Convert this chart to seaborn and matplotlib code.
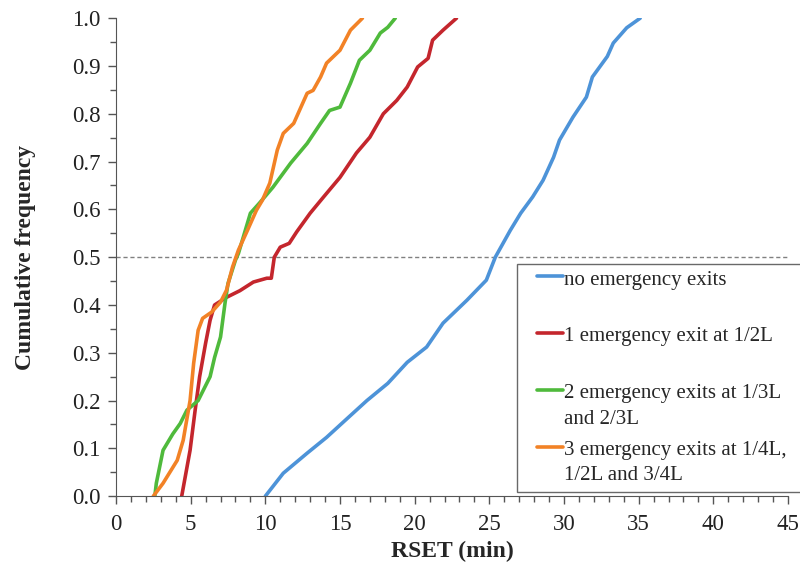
import numpy as np
import pandas as pd
import matplotlib
matplotlib.use("Agg")
import matplotlib.pyplot as plt
from matplotlib.legend_handler import HandlerLine2D
import seaborn as sns

# ---- data ----
series_names = [
    "no emergency exits",
    "1 emergency exit at 1/2L",
    "2 emergency exits at 1/3L\nand 2/3L",
    "3 emergency exits at 1/4L,\n1/2L and 3/4L",
]
colors = ["#4d93d8", "#c4262d", "#4fba3c", "#f28226"]

x_none = [10.0, 11.2, 12.8, 14.1, 15.5, 16.8, 18.2, 19.5, 20.8, 21.9, 23.5, 24.8, 25.4,
          26.4, 27.1, 27.9, 28.6, 29.3, 29.7, 30.6, 31.5, 31.9, 32.9, 33.3, 34.2, 35.1]
y_none = [0.0, 0.048, 0.09, 0.123, 0.163, 0.2, 0.236, 0.28, 0.312, 0.362, 0.41, 0.452, 0.50,
          0.556, 0.592, 0.626, 0.661, 0.709, 0.745, 0.793, 0.835, 0.877, 0.92, 0.948, 0.98, 1.0]

x_one = [4.4, 4.96, 5.3, 5.6, 6.0, 6.3, 6.6, 7.4, 8.3, 9.2, 10.1, 10.4, 10.6, 11.0, 11.6, 12.1,
         13.0, 13.9, 15.0, 16.1, 17.0, 17.9, 18.8, 19.5, 20.2, 20.9, 21.2, 21.9, 22.8]
y_one = [0.0, 0.096, 0.18, 0.25, 0.32, 0.368, 0.40, 0.416, 0.43, 0.448, 0.456, 0.456, 0.50, 0.521,
         0.529, 0.553, 0.592, 0.626, 0.667, 0.718, 0.751, 0.80, 0.828, 0.856, 0.898, 0.916, 0.954,
         0.975, 1.0]

x_two = [2.6, 2.7, 3.15, 3.8, 4.3, 4.75, 5.5, 6.3, 6.6, 7.0, 7.3, 7.5, 8.0, 8.2, 9.0, 9.6, 10.5,
         11.7, 12.8, 13.7, 14.3, 15.0, 15.7, 16.3, 17.0, 17.7, 18.2, 18.7]
y_two = [0.0, 0.027, 0.096, 0.13, 0.152, 0.18, 0.20, 0.25, 0.29, 0.333, 0.404, 0.445, 0.494, 0.508,
         0.592, 0.613, 0.646, 0.697, 0.738, 0.78, 0.807, 0.814, 0.864, 0.912, 0.933, 0.969, 0.981, 1.0]

x_three = [2.5, 3.15, 4.1, 4.5, 4.96, 5.2, 5.5, 5.8, 6.4, 7.0, 7.4, 7.8, 8.2, 8.8, 9.4, 9.8, 10.3,
           10.8, 11.2, 11.9, 12.5, 12.8, 13.2, 13.7, 14.1, 15.0, 15.7, 16.5]
y_three = [0.0, 0.027, 0.075, 0.117, 0.2, 0.278, 0.347, 0.372, 0.385, 0.406, 0.431, 0.479, 0.515,
           0.556, 0.598, 0.619, 0.655, 0.724, 0.759, 0.78, 0.822, 0.843, 0.849, 0.877, 0.906, 0.933,
           0.975, 1.0]

x_ticks = [0, 5, 10, 15, 20, 25, 30, 35, 40, 45]
y_ticks = [0.0, 0.1, 0.2, 0.3, 0.4, 0.5, 0.6, 0.7, 0.8, 0.9, 1.0]

frames = []
for name, xs, ys in zip(series_names, [x_none, x_one, x_two, x_three],
                        [y_none, y_one, y_two, y_three]):
    frames.append(pd.DataFrame({"RSET": xs, "freq": ys, "series": name}))
df = pd.concat(frames, ignore_index=True)

# ---- style ----
sns.set_style("ticks")
plt.rcParams["font.family"] = ["Liberation Serif", "DejaVu Serif"]
plt.rcParams["axes.edgecolor"] = "#555555"
plt.rcParams["xtick.color"] = "#555555"
plt.rcParams["ytick.color"] = "#555555"
plt.rcParams["xtick.labelcolor"] = "#222222"
plt.rcParams["ytick.labelcolor"] = "#222222"

fig = plt.figure(figsize=(8.0, 5.69), dpi=100)
ax = fig.add_axes([0.145, 0.128, 0.840, 0.840])

sns.lineplot(data=df, x="RSET", y="freq", hue="series", hue_order=series_names,
             palette=colors, estimator=None, sort=False, linewidth=2.6, ax=ax)

ax.axhline(0.5, color="#808080", linestyle=(0, (3, 2)), linewidth=1.0, zorder=0)

ax.set_xlim(0, 45)
ax.set_ylim(0, 1.0)
ax.set_xticks(x_ticks)
ax.set_yticks(y_ticks)
ax.set_yticklabels([f"{v:.1f}" for v in y_ticks])
ax.set_xticks(np.arange(0, 46, 1), minor=True)
ax.set_yticks(np.arange(0, 1.001, 0.05), minor=True)
ax.tick_params(axis="both", which="major", length=6, width=1.0, labelsize=16.5, direction="out")
ax.tick_params(axis="both", which="minor", length=4, width=1.0, direction="out")
ax.tick_params(axis="x", pad=7)
ax.tick_params(axis="y", pad=5)

sns.despine(ax=ax, top=True, right=True)

ax.set_xlabel("RSET (min)", fontsize=17, fontweight="bold", labelpad=4)
ax.set_ylabel("Cumulative frequency", fontsize=17, fontweight="bold", labelpad=26)


class FirstLineHandler(HandlerLine2D):
    """Legend line level with the first text line, drawn at the right of the handle box."""
    def __init__(self, dy, seg, **kw):
        super().__init__(**kw)
        self.dy = dy
        self.seg = seg

    def create_artists(self, legend, orig_handle, xdescent, ydescent, width, height,
                       fontsize, trans):
        arts = super().create_artists(legend, orig_handle, xdescent, ydescent, width,
                                      height, fontsize, trans)
        for a in arts:
            xd = np.asarray(a.get_xdata(), dtype=float)
            yd = np.asarray(a.get_ydata(), dtype=float)
            if len(xd) >= 2:
                a.set_xdata(np.linspace(width - xdescent - self.seg, width - xdescent, len(xd)))
            a.set_ydata(yd + self.dy)
        return arts


handles, labels = ax.get_legend_handles_labels()
# every entry occupies a two-line slot, like the reference
labels2 = [lab if "\n" in lab else lab + "\n " for lab in labels]
leg_fs = 15
leg = ax.legend(handles, labels2, loc="upper left",
                bbox_to_anchor=(0.597, 0.485, 0.43, 0.0), mode="expand",
                fontsize=leg_fs, frameon=True, fancybox=False, edgecolor="#444444",
                handlelength=1.9, handletextpad=0.05, labelspacing=0.6,
                borderpad=0.3, borderaxespad=0.0,
                handler_map={h: FirstLineHandler(dy=0.78 * leg_fs, seg=1.25 * leg_fs)
                             for h in handles})
leg.get_frame().set_linewidth(1.0)
for t in leg.get_texts():
    t.set_linespacing(1.45)
for line in leg.get_lines():
    line.set_linewidth(2.6)

fig.savefig("out.png", dpi=100)
